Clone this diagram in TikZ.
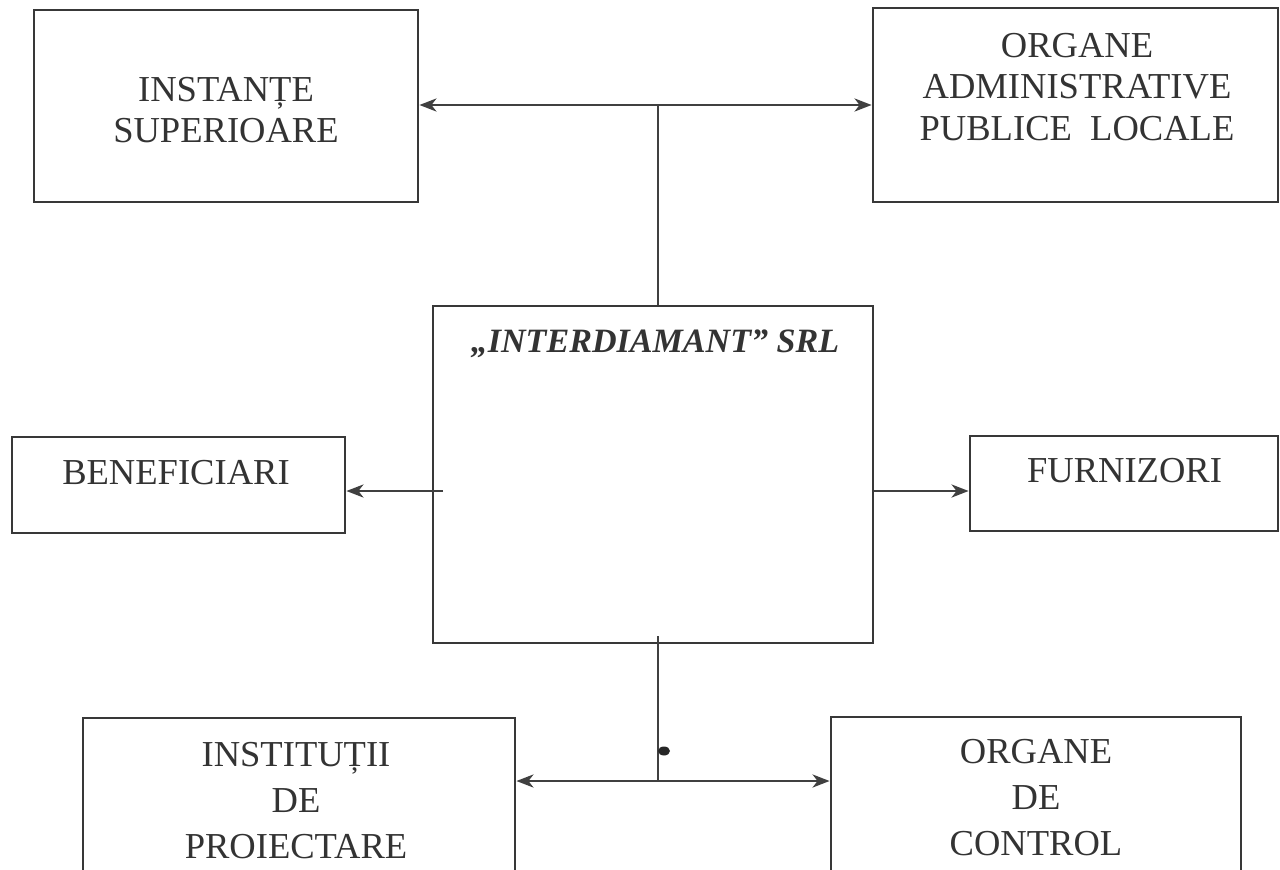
\documentclass[tikz,border=0pt]{standalone}
\usepackage{fontspec}
\setmainfont{Liberation Serif}
\usetikzlibrary{arrows.meta}

\begin{document}
\begin{tikzpicture}[
    box/.style={draw=black!78, line width=0.8pt, rectangle, inner sep=0pt},
    txt/.style={text=black!80, align=center, inner sep=0pt,
                font=\fontsize{10.4pt}{11.7pt}\selectfont},
    link/.style={draw=black!75, line width=0.8pt},
    tip/.style={-{Stealth[length=0.17cm,width=0.13cm,inset=0.05cm]}},
    tips/.style={{Stealth[length=0.17cm,width=0.13cm,inset=0.05cm]}-{Stealth[length=0.17cm,width=0.13cm,inset=0.05cm]}}]

\useasboundingbox (0,0) rectangle (12.8,-8.69);
\clip (0,0) rectangle (12.8,-8.69);

% -------- Boxes -----------
\node[box, minimum width=3.84cm, minimum height=1.92cm]  (instBox) at (2.26,-1.06) {};
\node[box, minimum width=4.05cm, minimum height=1.94cm]  (admBox)  at (10.755,-1.05) {};
\node[box, minimum width=4.40cm, minimum height=3.37cm]  (firmBox) at (6.53,-4.745) {};
\node[box, minimum width=3.33cm, minimum height=0.96cm]  (benBox)  at (1.785,-4.85) {};
\node[box, minimum width=3.08cm, minimum height=0.95cm]  (furBox)  at (11.24,-4.835) {};
\node[box, minimum width=4.32cm, minimum height=2.40cm]  (projBox) at (2.99,-8.38) {};
\node[box, minimum width=4.10cm, minimum height=2.40cm]  (ctrlBox) at (10.36,-8.37) {};

% -------- Texts -----------
\node[txt]  (instTxt) at (2.26,-1.10)  {INSTANȚE\\SUPERIOARE};
\node[txt]  (admTxt)  at (10.77,-0.87) {ORGANE\\ADMINISTRATIVE\\PUBLICE\ \ LOCALE};
\node[txt, font=\fontsize{9.7pt}{11.7pt}\selectfont\bfseries\itshape]  (firmTxt) at (6.55,-3.44) {„INTERDIAMANT” SRL};
\node[txt]  (benTxt)  at (1.76,-4.73)  {BENEFICIARI};
\node[txt]  (furTxt)  at (11.245,-4.71) {FURNIZORI};
\node[txt, font=\fontsize{10.4pt}{13.1pt}\selectfont]  (projTxt) at (2.96,-8.01)  {INSTITUȚII\\DE\\PROIECTARE};
\node[txt, font=\fontsize{10.4pt}{13.1pt}\selectfont]  (ctrlTxt) at (10.36,-7.98) {ORGANE\\DE\\CONTROL};

% -------- Links -----------
\coordinate (topHub)  at (6.58,-1.05);
\coordinate (sideHub) at (4.43,-4.91);
\coordinate (botHub)  at (6.58,-7.81);

\draw[link, tips]  (topHub -| instBox.east) -- (topHub -| admBox.west);
\draw[link]        (topHub) -- (topHub |- firmBox.north);
\draw[link, tip]   (sideHub) -- (sideHub -| benBox.east);
\draw[link, tip]   (sideHub -| firmBox.east) -- (sideHub -| furBox.west);
\draw[link]        ([yshift=0.08cm]botHub |- firmBox.south) -- (botHub);
\draw[link, tips]  (botHub -| projBox.east) -- (botHub -| ctrlBox.west);
\fill[black!85] (6.64,-7.51) ellipse (0.06 and 0.045);
\end{tikzpicture}
\end{document}
